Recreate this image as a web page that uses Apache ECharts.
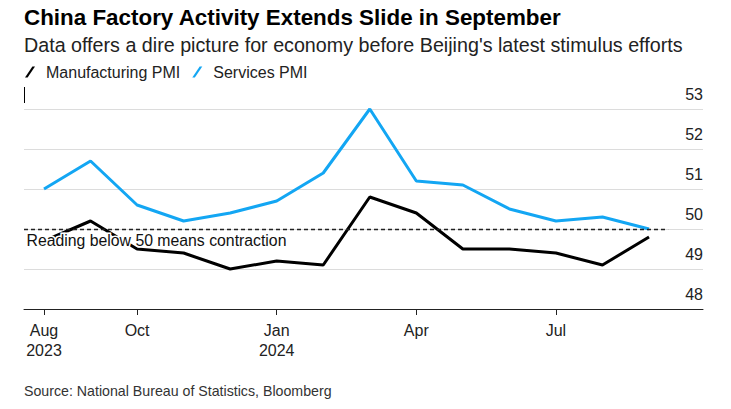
<!DOCTYPE html>
<html>
<head>
<meta charset="utf-8">
<script src="https://cdn.jsdelivr.net/npm/echarts@6/dist/echarts.min.js"></script>
<style>
html,body{margin:0;padding:0;background:#fff;}
#c{width:731px;height:409px;}
</style>
</head>
<body>
<div id="c"></div>
<script>
const months = ['Aug 2023','Sep 2023','Oct 2023','Nov 2023','Dec 2023','Jan 2024','Feb 2024','Mar 2024','Apr 2024','May 2024','Jun 2024','Jul 2024','Aug 2024','Sep 2024'];
const manufacturing = [49.7,50.2,49.5,49.4,49.0,49.2,49.1,50.8,50.4,49.5,49.5,49.4,49.1,49.8];
const services = [51.0,51.7,50.6,50.2,50.4,50.7,51.4,53.0,51.2,51.1,50.5,50.2,50.3,50.0];
const tickIndex = [0,2,5,8,11];
const tickLabels = ['Aug\n2023','Oct','Jan\n2024','Apr','Jul'];
const yTicks = [48,49,50,51,52,53];
const threshold = 50;

const FONT = '"Liberation Sans", Arial, sans-serif';
const chart = echarts.init(document.getElementById('c'), null, {renderer:'svg'});

const toPairs = arr => arr.map((v,i)=>[i,v]);
const xMin = -0.43, xMax = 14.16;

chart.setOption({
  animation:false,
  textStyle:{fontFamily:FONT},
  grid:{left:24,right:28,top:109,bottom:100,containLabel:false,outerBoundsMode:'none'},
  legend:{
    left:25, top:64, padding:0, itemGap:12, itemWidth:10, itemHeight:11,
    selectedMode:false,
    textStyle:{fontSize:16,color:'#222',fontFamily:FONT,padding:[0,0,0,6]},
    data:[
      {name:'Manufacturing PMI',icon:'path://M0,11 L2.6,11 L10,0 L7.4,0 Z',itemStyle:{color:'#000'}},
      {name:'Services PMI',icon:'path://M0,11 L2.6,11 L10,0 L7.4,0 Z',itemStyle:{color:'#13a6f3'}}
    ]
  },
  xAxis:{
    type:'value', min:xMin, max:xMax,
    splitLine:{show:false},
    axisLine:{show:true,onZero:false,lineStyle:{color:'#222',width:1}},
    axisTick:{show:true,customValues:tickIndex,length:6,lineStyle:{color:'#222'}},
    axisLabel:{
      customValues:tickIndex, margin:11, fontSize:16, lineHeight:20, color:'#222',
      formatter:v=>tickLabels[tickIndex.indexOf(Math.round(v))] || ''
    }
  },
  yAxis:{
    type:'value', position:'right', min:yTicks[0], max:yTicks[yTicks.length-1], interval:1,
    axisLine:{show:false}, axisTick:{show:false},
    splitLine:{show:true,lineStyle:{color:'#dcdcdc',width:1}},
    axisLabel:{inside:true,margin:0,fontSize:16,color:'#222',lineHeight:30,verticalAlign:'bottom'}
  },
  series:[
    {name:'Manufacturing PMI',type:'line',data:toPairs(manufacturing),showSymbol:false,
     lineStyle:{color:'#000',width:3},itemStyle:{color:'#000'},z:3},
    {name:'Services PMI',type:'line',data:toPairs(services),showSymbol:false,
     lineStyle:{color:'#13a6f3',width:3},itemStyle:{color:'#13a6f3'},z:3,
     markLine:{silent:true,symbol:'none',
       lineStyle:{color:'#222',type:[4,3],width:1.3},
       label:{show:false},
       data:[[{coord:[xMin,threshold]},{coord:[months.length-1+0.41,threshold]}]]}
    }
  ],
  graphic:[
    {type:'text',left:24,top:6,z:100,style:{text:'China Factory Activity Extends Slide in September',font:'bold 22.4px '+FONT,fill:'#000'}},
    {type:'text',left:24,top:35,z:100,style:{text:"Data offers a dire picture for economy before Beijing's latest stimulus efforts",font:'19.7px '+FONT,fill:'#222'}},
    {type:'line',z:100,shape:{x1:24.5,y1:87,x2:24.5,y2:103},style:{stroke:'#000',lineWidth:1}},
    {type:'text',left:25,top:231,z:100,style:{text:'Reading below 50 means contraction',font:'15.8px '+FONT,fill:'#111',stroke:'#fff',lineWidth:3}},
    {type:'text',left:24,top:384,z:100,style:{text:'Source: National Bureau of Statistics, Bloomberg',font:'14.2px '+FONT,fill:'#333'}}
  ]
});
</script>
</body>
</html>
